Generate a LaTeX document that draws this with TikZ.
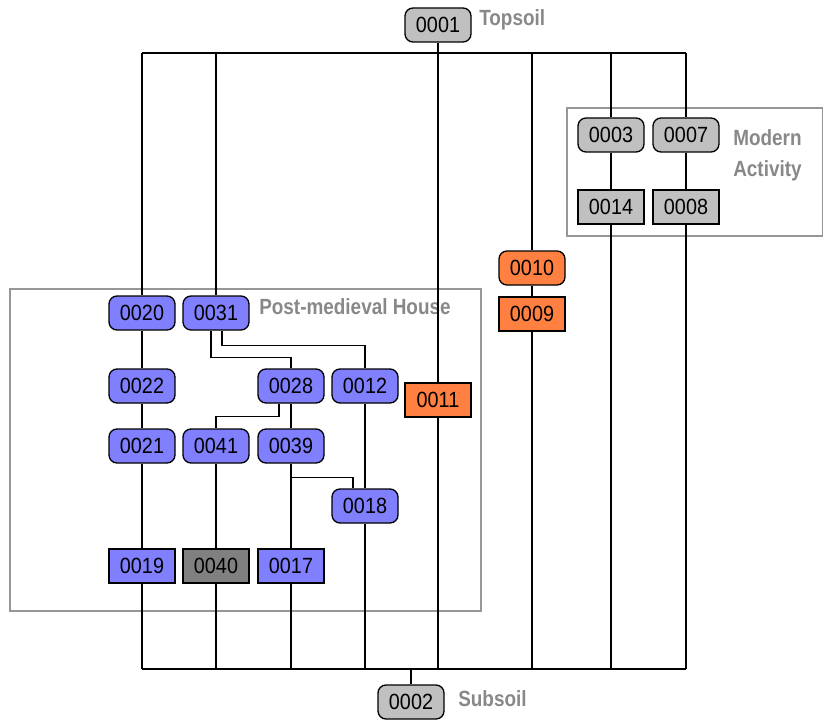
\documentclass[tikz,border=0pt]{standalone}
\usepackage{fontspec}
\setmainfont{Liberation Sans}
\newfontfamily\nodefont[FakeStretch=0.9]{Liberation Sans}
\newfontfamily\labelfont[FakeStretch=0.86]{Liberation Sans}
\definecolor{ublue}{RGB}{128,128,255}
\definecolor{ugrey}{RGB}{192,192,192}
\definecolor{uorange}{RGB}{255,128,64}
\definecolor{udark}{RGB}{128,128,128}
\definecolor{ulabel}{RGB}{136,136,136}
\definecolor{ubox}{RGB}{150,150,150}
\tikzset{
  unit/.style={draw=black, line width=1pt, minimum width=49.5pt, minimum height=25.5pt, inner sep=0pt, font=\nodefont\fontsize{16.5}{19}\selectfont},
  rnd/.style={unit, rounded corners=6pt},
  sq/.style={unit},
  blue/.style={fill=ublue},
  grey/.style={fill=ugrey},
  orange/.style={fill=uorange},
  dark/.style={fill=udark},
  lbl/.style={text=ulabel, font=\labelfont\fontsize{16.5}{23}\selectfont\bfseries, anchor=west, inner sep=0pt, align=left},
  grp/.style={draw=ubox, line width=1pt},
  edge/.style={line width=1.1pt, draw=black},
}
\begin{document}
\begin{tikzpicture}[x=0.75pt,y=-0.75pt]
\useasboundingbox (0,0) rectangle (823,720);
% group boxes
\draw[grp] (10,289) rectangle (481,611);
\draw[grp] (567,108) rectangle (823,236);
% bars
\coordinate (tl) at (142,53);
\coordinate (tr) at (686,53);
\coordinate (bl) at (142,669);
\coordinate (br) at (686,669);
% nodes
\node[rnd,grey] (n01) at (438,25) {0001};
\node[lbl] (ltop) at (479,20) {Topsoil};
\node[rnd,grey] (n02) at (411,702) {0002};
\node[lbl] (lsub) at (458,699) {Subsoil};
\node[rnd,grey] (n03) at (611,135) {0003};
\node[rnd,grey] (n07) at (686,135) {0007};
\node[sq,grey] (n14) at (611,207) {0014};
\node[sq,grey] (n08) at (686,207) {0008};
\node[lbl] (lmod) at (733,155) {Modern\\Activity};
\node[rnd,orange] (n10) at (532,268) {0010};
\node[sq,orange] (n09) at (532,314) {0009};
\node[sq,orange] (n11) at (438,400) {0011};
\node[rnd,blue] (n20) at (142,313) {0020};
\node[rnd,blue] (n31) at (216,313) {0031};
\node[lbl] (lhouse) at (259,307) {Post-medieval House};
\node[rnd,blue] (n22) at (142,386) {0022};
\node[rnd,blue] (n28) at (291,386) {0028};
\node[rnd,blue] (n12) at (365,386) {0012};
\node[rnd,blue] (n21) at (142,446) {0021};
\node[rnd,blue] (n41) at (216,446) {0041};
\node[rnd,blue] (n39) at (291,446) {0039};
\node[rnd,blue] (n18) at (365,506) {0018};
\node[sq,blue] (n19) at (142,566) {0019};
\node[sq,dark] (n40) at (216,566) {0040};
\node[sq,blue] (n17) at (291,566) {0017};
% bars
\draw[edge] (tl) -- (tr);
\draw[edge] (bl) -- (br);
\draw[edge] (n01.south) -- (n01.south |- tl);
\draw[edge] (n02.north) -- (n02.north |- bl);
% top bar drops
\draw[edge] (tl) -- (n20.north);
\draw[edge] (n31.north |- tl) -- (n31.north);
\draw[edge] (n11.north |- tl) -- (n11.north);
\draw[edge] (n10.north |- tl) -- (n10.north);
\draw[edge] (n03.north |- tl) -- (n03.north);
\draw[edge] (tr) -- (n07.north);
% column chains
\draw[edge] (n20) -- (n22);
\draw[edge] (n22) -- (n21);
\draw[edge] (n21) -- (n19);
\draw[edge] (n19.south) -- (bl);
\draw[edge] (n41) -- (n40);
\draw[edge] (n40.south) -- (n40.south |- bl);
\draw[edge] (n28) -- (n39);
\draw[edge] (n39) -- (n17);
\draw[edge] (n17.south) -- (n17.south |- bl);
\draw[edge] (n12) -- (n18);
\draw[edge] (n18.south) -- (n18.south |- bl);
\draw[edge] (n11.south) -- (n11.south |- bl);
\draw[edge] (n10) -- (n09);
\draw[edge] (n09.south) -- (n09.south |- bl);
\draw[edge] (n03) -- (n14);
\draw[edge] (n14.south) -- (n14.south |- bl);
\draw[edge] (n07) -- (n08);
\draw[edge] (n08.south) -- (br);
% branching connectors
\draw[edge] ([xshift=-3.75pt]n31.south) -- ++(0,27) -| (n28.north);
\draw[edge] ([xshift=4.5pt]n31.south) -- ++(0,15) -| (n12.north);
\draw[edge] ([xshift=-9pt]n28.south) -- ++(0,13) -| (n41.north);
\draw[edge] ([yshift=-10.5pt]n39.south) -| ([xshift=-9pt]n18.north);
\end{tikzpicture}
\end{document}
